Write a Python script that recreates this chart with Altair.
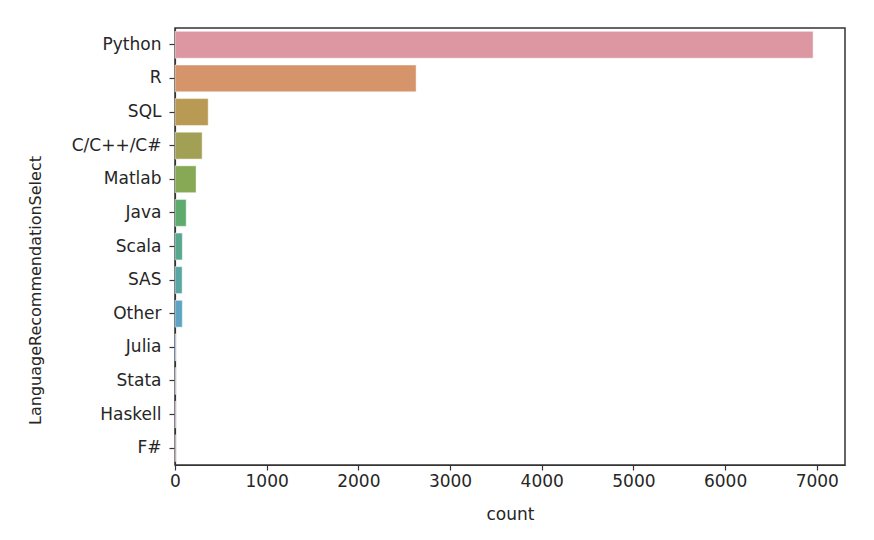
import altair as alt
import pandas as pd

languages = ["Python", "R", "SQL", "C/C++/C#", "Matlab", "Java", "Scala",
             "SAS", "Other", "Julia", "Stata", "Haskell", "F#"]
counts = [6960, 2630, 362, 296, 230, 122, 80, 78, 80, 11, 6, 5, 4]
colors = ["#dd97a3", "#d5946a", "#b99a55", "#a2a054", "#87a956", "#5fab6e",
          "#58a88e", "#59a6a3", "#5ea4c2", "#7b9fd6", "#a598d6", "#c98fd4",
          "#d68fbd"]
ticks = [0, 1000, 2000, 3000, 4000, 5000, 6000, 7000]

df = pd.DataFrame({"LanguageRecommendationSelect": languages, "count": counts})

FS = 17

chart = alt.Chart(df).mark_bar(stroke="white", strokeWidth=0.8, strokeOpacity=0.6).encode(
    x=alt.X("count:Q",
            scale=alt.Scale(domain=[0, 7308], nice=False, zero=True),
            axis=alt.Axis(values=ticks, format="d", title="count", grid=False,
                          labelFont="DejaVu Sans", labelFontSize=FS, labelColor="#262626",
                          titleFont="DejaVu Sans", titleFontSize=FS, titleFontWeight="normal",
                          titleColor="#262626", tickColor="#333", domainColor="#333",
                          domainWidth=1.2, tickWidth=1.2,
                          tickSize=5, labelPadding=3, titlePadding=17, labelFlush=False)),
    y=alt.Y("LanguageRecommendationSelect:N", sort=languages,
            scale=alt.Scale(paddingInner=0.2, paddingOuter=0.1),
            axis=alt.Axis(title="LanguageRecommendationSelect", grid=False,
                          labelFont="DejaVu Sans", labelFontSize=FS, labelColor="#262626",
                          titleFont="DejaVu Sans", titleFontSize=FS - 1, titleFontWeight="normal",
                          titleColor="#262626", tickColor="#333", domainColor="#333",
                          domainWidth=1.2, tickWidth=1.2,
                          tickSize=6, labelPadding=8,
                          titleX=-140, titleY=262, titleAngle=-90,
                          titleAlign="center", titleBaseline="middle")),
    color=alt.Color("LanguageRecommendationSelect:N", sort=languages,
                    scale=alt.Scale(domain=languages, range=colors), legend=None),
).properties(
    width=670, height=437,
    autosize=alt.AutoSizeParams(type="none"),
    padding={"left": 167, "top": 20, "right": 21, "bottom": 67},
).configure(background="white").configure_view(
    stroke="#333333", strokeWidth=1.5
)

chart.save("out.html", embed_options={"renderer": "svg", "actions": False})
